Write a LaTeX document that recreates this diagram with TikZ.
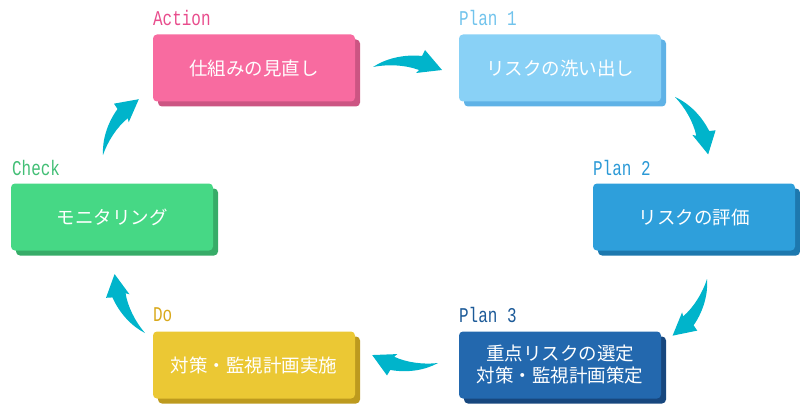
\documentclass[tikz,border=0pt]{standalone}
\usepackage{fontspec}
\setmainfont{Noto Sans CJK JP}
\newfontfamily\labfont{Liberation Mono}
\usetikzlibrary{shadows}
\definecolor{arrowc}{HTML}{00B4CB}
\definecolor{actf}{HTML}{F86BA0}\definecolor{acts}{HTML}{CC5583}\definecolor{actl}{HTML}{E84C8C}
\definecolor{pa}{HTML}{89D1F6}\definecolor{pas}{HTML}{5FB2E6}\definecolor{pal}{HTML}{71C3EC}
\definecolor{pb}{HTML}{2E9FDB}\definecolor{pbs}{HTML}{1D78AE}\definecolor{pbl}{HTML}{2B99D6}
\definecolor{pc}{HTML}{2368AE}\definecolor{pcs}{HTML}{17477E}\definecolor{pcl}{HTML}{1C5A98}
\definecolor{dof}{HTML}{EBC834}\definecolor{dos}{HTML}{BD9A1E}\definecolor{dol}{HTML}{D9A91C}
\definecolor{chf}{HTML}{46D885}\definecolor{chs}{HTML}{37AC68}\definecolor{chl}{HTML}{42BE75}
\begin{document}
\begin{tikzpicture}[x=1pt,y=1pt,
  box/.style={rounded corners=4pt, minimum width=202pt, minimum height=67pt,
    text=white, font=\fontsize{18.5}{22}\selectfont, align=center, inner sep=0pt,
    drop shadow={shadow xshift=5pt, shadow yshift=-5pt, fill=#1, opacity=1}},
  lab/.style={font=\labfont\fontsize{21}{21}\selectfont, anchor=west, xscale=0.76, inner sep=0pt},
  cyc/.pic={\fill[arrowc] (0,0) .. controls (12,8) and (30,13) .. (49,11) -- (52,17) -- (69,-3)
     -- (43,-6) -- (46,-3) .. controls (33,2) and (15,3) .. (0,0) -- cycle;}
]
\useasboundingbox (0,0) rectangle (800,405);
% boxes
\node[box=acts, fill=actf] (act) at (254,337) {仕組みの見直し};
\node[box=pas, fill=pa] (p1) at (560,337) {リスクの洗い出し};
\node[box=pbs, fill=pb] (p2) at (694,188) {リスクの評価};
\node[box=pcs, fill=pc] (p3) at (560,40) {重点リスクの選定\\対策・監視計画策定};
\node[box=dos, fill=dof] (do) at (254,40) {対策・監視計画実施};
\node[box=chs, fill=chf] (ch) at (112,188) {モニタリング};
% labels
\node[lab, text=actl] (lact) at (153,387.5) {Action};
\node[lab, text=pal] (lp1) at (459,387.5) {Plan 1};
\node[lab, text=pbl] (lp2) at (593,237.5) {Plan 2};
\node[lab, text=pcl] (lp3) at (459,90) {Plan 3};
\node[lab, text=dol] (ldo) at (153,90) {Do};
\node[lab, text=chl] (lch) at (12,237.5) {Check};
% cycle arrows
\coordinate (a1) at (373,338);
\coordinate (a2) at (675,308);
\coordinate (a3) at (707,126);
\coordinate (a4) at (438,42);
\coordinate (a5) at (145,72);
\coordinate (a6) at (103,250);
\pic[rotate=0] at (a1) {cyc};
\pic[rotate=-57.5, scale=0.96] at (a2) {cyc};
\pic[rotate=-118.8, scale=0.96] at (a3) {cyc};
\pic[rotate=175.6, scale=0.96] at (a4) {cyc};
\pic[rotate=119.8, scale=0.96] at (a5) {cyc};
\pic[rotate=59.8, scale=0.96] at (a6) {cyc};
\end{tikzpicture}
\end{document}
